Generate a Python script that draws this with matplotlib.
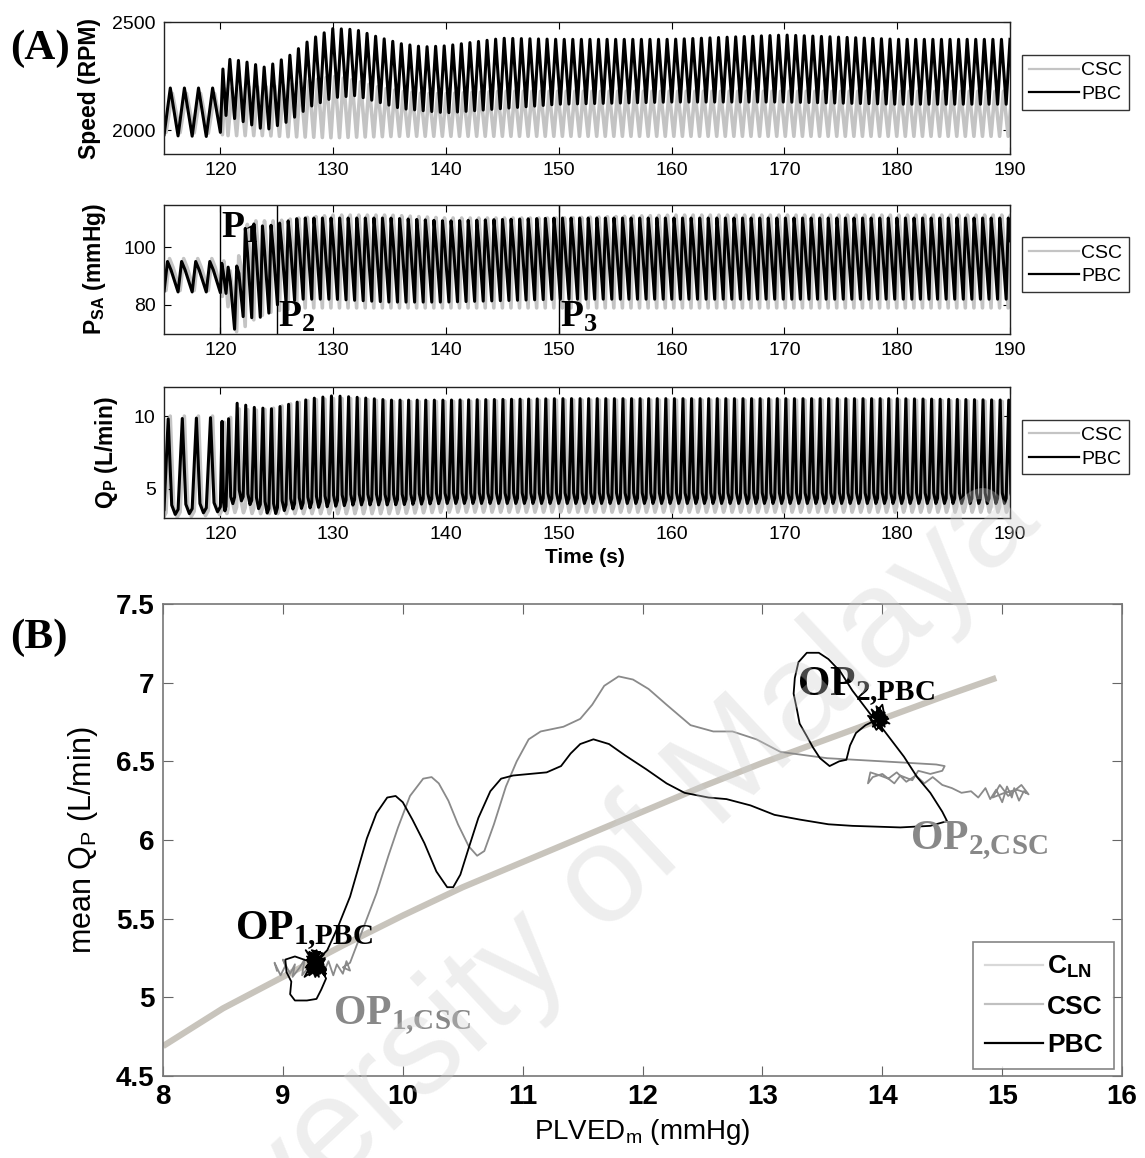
import numpy as np
import matplotlib
matplotlib.use("Agg")
import matplotlib.pyplot as plt
from matplotlib.lines import Line2D
from matplotlib.ticker import FormatStrFormatter

plt.rcParams['font.family'] = ['Liberation Sans', 'DejaVu Sans']
plt.rcParams['mathtext.fontset'] = 'custom'
plt.rcParams['mathtext.rm'] = 'Liberation Serif:bold'
plt.rcParams['mathtext.sf'] = 'Liberation Sans'
plt.rcParams['mathtext.bf'] = 'Liberation Sans:bold'
plt.rcParams['mathtext.it'] = 'Liberation Sans:italic'

# ---------------- (A) beat envelopes: time (s), upper / lower levels ----------------
spd_t = [115, 119.9, 120.4, 122, 124, 126, 128, 130, 132, 134, 136, 138, 140, 145, 150, 160, 170, 180, 190]
spd_pbc_hi = [2195, 2195, 2330, 2320, 2290, 2340, 2420, 2470, 2465, 2430, 2400, 2385, 2390, 2425, 2420, 2420, 2440, 2420, 2420]
spd_pbc_lo = [1975, 1970, 2070, 2040, 2000, 2040, 2110, 2150, 2160, 2130, 2100, 2090, 2080, 2100, 2120, 2130, 2130, 2120, 2120]
spd_csc_hi = [2170, 2170, 2190, 2200, 2200, 2210, 2230, 2250, 2230, 2200, 2180, 2170, 2170, 2180, 2180, 2180, 2180, 2180, 2180]
spd_csc_lo = [1990, 1985, 1975, 1975, 1975, 1970, 1968, 1965, 1968, 1970, 1972, 1972, 1972, 1972, 1972, 1972, 1972, 1972, 1972]

psa_t = [115, 119.5, 120.5, 121.3, 122.0, 123, 124, 125, 127, 130, 135, 140, 150, 160, 170, 180, 190]
psa_pbc_hi = [95, 95, 94, 90, 106, 108, 107, 108, 110, 110, 110, 109, 110, 110, 110, 110, 110]
psa_pbc_lo = [84.5, 84.5, 84, 71, 76, 75.5, 76, 80, 82, 82, 81, 81, 82, 82, 82, 82, 82]
psa_csc_hi = [96, 96, 95, 88, 107, 109, 109, 109, 110, 111, 111, 110, 110, 111, 111, 111, 111]
psa_csc_lo = [85, 85, 82, 70.5, 72, 75, 77, 78, 79, 79, 79, 79, 79, 79, 79, 79, 79]

qp_t = [115, 119.5, 120.5, 121.5, 123, 124.5, 126, 128, 130, 132, 135, 140, 150, 160, 170, 180, 190]
qp_pbc_hi = [9.8, 9.9, 9.5, 10.9, 10.6, 10.5, 10.8, 11.2, 11.4, 11.3, 11.1, 11.1, 11.2, 11.2, 11.2, 11.2, 11.1]
qp_pbc_lo = [3.2, 3.4, 3.5, 4.3, 3.8, 3.2, 3.6, 3.7, 3.8, 3.9, 3.9, 4.0, 4.0, 4.0, 4.0, 4.0, 4.0]
qp_csc_hi = [10.0, 10.0, 9.5, 10.5, 10.4, 10.5, 10.8, 11.1, 11.2, 11.2, 11.0, 11.0, 11.1, 11.1, 11.1, 11.1, 11.0]
qp_csc_lo = [3.0, 3.2, 3.3, 3.4, 3.3, 3.3, 3.3, 3.3, 3.3, 3.3, 3.3, 3.4, 3.4, 3.4, 3.4, 3.4, 3.4]

# heart period before / after the controller switch (s)
period_pre, period_post = 1.25, 0.76
switch_t = 120.5

# ---------------- (B) operating point trajectories ----------------
cln_x = [8.0, 8.5, 9.0, 9.5, 10.0, 10.5, 11.0, 11.5, 12.0, 12.5, 13.0, 13.5, 14.0, 14.5, 14.95]
cln_y = [4.69, 4.93, 5.13, 5.33, 5.52, 5.70, 5.86, 6.02, 6.18, 6.34, 6.49, 6.63, 6.77, 6.91, 7.03]

csc_x = [8.95, 8.93, 8.98, 9.02, 9.00, 9.06, 9.10, 9.08, 9.14, 9.18, 9.16, 9.22, 9.27, 9.30, 9.34,
         9.38, 9.42, 9.45, 9.50, 9.53, 9.56, 9.50, 9.56, 9.58,
         9.66, 9.78, 9.88, 9.96, 10.06, 10.17, 10.24, 10.30, 10.38, 10.46, 10.55, 10.62, 10.68,
         10.76, 10.86, 10.95, 11.05, 11.15, 11.34, 11.48, 11.58, 11.68, 11.80, 11.92, 12.05, 12.2,
         12.4, 12.59, 12.75, 12.95, 13.15, 13.54, 14.0, 14.45, 14.52,
         14.50, 14.40, 14.30, 14.25, 14.15, 14.10, 14.0, 13.92, 13.88, 13.90, 13.98, 14.05, 14.12,
         14.2, 14.28, 14.35, 14.42, 14.5, 14.58, 14.66, 14.74, 14.80, 14.86, 14.90, 14.95, 15.0,
         15.04, 15.08, 15.1, 15.14, 15.18, 15.22, 15.16, 15.05, 14.98, 14.92, 15.02, 15.12, 15.2]
csc_y = [5.17, 5.22, 5.14, 5.20, 5.24, 5.15, 5.21, 5.13, 5.19, 5.24, 5.14, 5.20, 5.13, 5.22, 5.16,
         5.23, 5.14, 5.21, 5.15, 5.23, 5.17, 5.19, 5.22, 5.26,
         5.42, 5.66, 5.90, 6.08, 6.28, 6.39, 6.40, 6.36, 6.25, 6.10, 5.96, 5.90, 5.93,
         6.10, 6.34, 6.50, 6.64, 6.69, 6.72, 6.77, 6.86, 6.98, 7.04, 7.02, 6.96, 6.86,
         6.73, 6.69, 6.69, 6.64, 6.56, 6.52, 6.50, 6.48, 6.47,
         6.44, 6.42, 6.44, 6.38, 6.41, 6.36, 6.42, 6.40, 6.36, 6.43, 6.41, 6.39, 6.43,
         6.37, 6.41, 6.36, 6.40, 6.35, 6.33, 6.30, 6.31, 6.27, 6.33, 6.26, 6.32, 6.24,
         6.34, 6.27, 6.33, 6.25, 6.31, 6.29, 6.35, 6.28, 6.35, 6.27, 6.30, 6.32, 6.30]

# PBC path: OP1 loop + settling blob, transition, OP2 loop + settling blob
pbc_x = [9.25, 9.10, 9.02, 9.03, 9.07, 9.06, 9.10, 9.20, 9.28, 9.32, 9.36, 9.30,
         9.21, 9.33, 9.24, 9.36, 9.20, 9.30, 9.27, 9.34, 9.22, 9.31, 9.19, 9.35, 9.26, 9.23,
         9.32, 9.28, 9.21, 9.36, 9.25, 9.30, 9.20, 9.34, 9.27, 9.23, 9.33, 9.29, 9.22, 9.35,
         9.24, 9.31, 9.20, 9.34, 9.22, 9.35, 9.19, 9.31, 9.26, 9.21, 9.36, 9.24, 9.29, 9.18,
         9.33, 9.27, 9.22, 9.35, 9.25, 9.30, 9.20, 9.28, 9.32,
         9.37, 9.46, 9.56, 9.64, 9.70, 9.78, 9.87, 9.94, 10.0, 10.08, 10.18, 10.28, 10.37, 10.42,
         10.48, 10.55, 10.63, 10.73, 10.82, 10.92, 11.06, 11.2, 11.32, 11.40, 11.48, 11.59, 11.72,
         11.85, 12.03, 12.2, 12.35, 12.55, 12.7, 12.9, 13.1, 13.31, 13.55, 13.75, 14.15, 14.40,
         14.54, 14.50, 14.40, 14.29, 14.18, 14.08, 14.0, 13.96,
         13.9, 13.84, 13.75, 13.65, 13.55, 13.47, 13.37, 13.30, 13.27, 13.26, 13.29, 13.31, 13.37,
         13.42, 13.48, 13.56, 13.64, 13.70, 13.73, 13.78, 13.86, 13.94,
         13.98, 14.02, 13.92, 14.04, 13.95, 13.90, 14.00, 14.03, 13.93, 13.97, 14.01, 13.94, 13.99,
         14.02, 13.96, 13.91, 13.98, 14.06, 13.88, 14.00, 13.95, 14.05, 13.92, 13.99, 14.03, 13.97]
pbc_y = [5.22, 5.26, 5.24, 5.16, 5.10, 5.02, 4.98, 4.98, 4.99, 5.05, 5.12, 5.20,
         5.16, 5.28, 5.30, 5.18, 5.24, 5.13, 5.27, 5.21, 5.14, 5.29, 5.19, 5.25, 5.15, 5.27,
         5.17, 5.30, 5.22, 5.15, 5.19, 5.28, 5.20, 5.23, 5.13, 5.26, 5.18, 5.25, 5.29, 5.16,
         5.28, 5.16, 5.18, 5.27, 5.22, 5.14, 5.30, 5.15, 5.22, 5.25, 5.17, 5.26, 5.29, 5.13,
         5.21, 5.19, 5.28, 5.24, 5.17, 5.20, 5.26, 5.23, 5.26,
         5.30, 5.45, 5.64, 5.85, 6.01, 6.17, 6.27, 6.28, 6.24, 6.13, 5.98, 5.80, 5.70, 5.70,
         5.78, 5.95, 6.14, 6.31, 6.39, 6.41, 6.42, 6.43, 6.47, 6.55, 6.61, 6.64, 6.61,
         6.54, 6.45, 6.36, 6.30, 6.27, 6.26, 6.22, 6.16, 6.13, 6.10, 6.09, 6.08, 6.09,
         6.12, 6.18, 6.30, 6.40, 6.53, 6.63, 6.71, 6.76,
         6.80, 6.86, 6.95, 7.07, 7.15, 7.19, 7.19, 7.13, 7.03, 6.93, 6.82, 6.74, 6.66,
         6.59, 6.52, 6.47, 6.50, 6.51, 6.60, 6.68, 6.73, 6.76,
         6.84, 6.72, 6.80, 6.78, 6.70, 6.77, 6.86, 6.74, 6.73, 6.82, 6.76, 6.79, 6.71,
         6.81, 6.75, 6.83, 6.78, 6.74, 6.79, 6.69, 6.85, 6.77, 6.72, 6.80, 6.76, 6.78]


def beat_trace(beats, knot_t, hi, lo, shape):
    """Build a pulsatile trace: one waveform shape per beat scaled between lo and hi."""
    tt, vv = [], []
    for b0, b1 in zip(beats[:-1], beats[1:]):
        T = b1 - b0
        for ph, lev in shape:
            t = b0 + ph * T
            h = np.interp(t, knot_t, hi)
            l = np.interp(t, knot_t, lo)
            tt.append(t)
            vv.append(l + lev * (h - l))
    return tt, vv


def beat_times(offset):
    pre = np.arange(115 - period_pre + offset, switch_t, period_pre)
    post = np.arange(switch_t + offset, 191, period_post)
    return np.concatenate([pre, post])


GRAY_A = '#c4c4c4'
fig = plt.figure(figsize=(11.45, 11.58), dpi=100)

spd_shape = [(0, 0), (0.45, 1)]
psa_shape = [(0, 0), (0.25, 1), (0.5, 0.72)]
qp_shape = [(0, 0.05), (0.3, 1), (0.55, 0.1), (0.8, 0)]

panels = [
    ([0.1432, 0.8670, 0.7389, 0.1140], spd_t, spd_csc_hi, spd_csc_lo, spd_pbc_hi, spd_pbc_lo,
     spd_shape, (1890, 2500), [2000, 2500], 'Speed (RPM)', -0.075),
    ([0.1432, 0.7116, 0.7389, 0.1114], psa_t, psa_csc_hi, psa_csc_lo, psa_pbc_hi, psa_pbc_lo,
     psa_shape, (70, 114.5), [80, 100], r'$\mathbf{P_{SA}}$ (mmHg)', -0.066),
    ([0.1432, 0.5527, 0.7389, 0.1131], qp_t, qp_csc_hi, qp_csc_lo, qp_pbc_hi, qp_pbc_lo,
     qp_shape, (3, 12), [5, 10], r'$\mathbf{Q_P}$ (L/min)', -0.052),
]

axes_a = []
for pos, kt, c_hi, c_lo, p_hi, p_lo, shape, ylim, yticks, ylab, ylx in panels:
    ax = fig.add_axes(pos)
    tc, vc = beat_trace(beat_times(0.18), kt, c_hi, c_lo, shape)
    tp, vp = beat_trace(beat_times(0.0), kt, p_hi, p_lo, shape)
    ax.plot(tc, vc, color=GRAY_A, lw=2.6, label='CSC')
    ax.plot(tp, vp, color='black', lw=2.2, label='PBC')
    ax.set_xlim(115, 190)
    ax.set_ylim(*ylim)
    ax.set_yticks(yticks)
    ax.set_xticks(range(120, 191, 10))
    ax.tick_params(direction='in', top=True, right=True, labelsize=14, length=5, pad=6)
    ax.set_ylabel(ylab, fontsize=16.5, fontweight='bold')
    ax.yaxis.set_label_coords(ylx, 0.5)
    for s in ax.spines.values():
        s.set_linewidth(1.0)
        s.set_color('#222222')
    leg = ax.legend(loc='upper left', bbox_to_anchor=(1.014, 0.75), fontsize=14,
                    frameon=True, fancybox=False, handlelength=2.6, handletextpad=0.1,
                    borderpad=0.35, labelspacing=0.3, borderaxespad=0)
    leg.get_frame().set_edgecolor('black')
    leg.get_frame().set_linewidth(1.0)
    for h in leg.get_lines():
        h.set_linewidth(1.6)
    axes_a.append(ax)

# phase markers on the pressure panel
ax_psa = axes_a[1]
for xv in (120, 125, 150):
    ax_psa.axvline(xv, color='black', lw=1.0)
ax_psa.text(120.05, 103.1, r'$\mathrm{P_1}$', fontsize=27, va='baseline', ha='left')
ax_psa.text(125.15, 72.4, r'$\mathrm{P_2}$', fontsize=27, va='baseline', ha='left')
ax_psa.text(150.15, 72.4, r'$\mathrm{P_3}$', fontsize=27, va='baseline', ha='left')

axes_a[2].text(0.498, -0.30, 'Time (s)', transform=axes_a[2].transAxes, ha='center',
               va='center', fontsize=15, fontweight='bold')

fig.text(0.009, 0.958, '(A)', fontsize=31, fontweight='bold', family='Liberation Serif',
         va='center', ha='left')
fig.text(0.009, 0.449, '(B)', fontsize=31, fontweight='bold', family='Liberation Serif',
         va='center', ha='left')

# ---------------- (B) ----------------
axb = fig.add_axes([0.1424, 0.0708, 0.8376, 0.4076])
axb.plot(cln_x, cln_y, color='#c8c4bc', lw=4.5, solid_capstyle='butt', zorder=1)
axb.plot(csc_x, csc_y, color='#8a8a8a', lw=1.3, zorder=2)
axb.plot(pbc_x, pbc_y, color='black', lw=1.3, zorder=3)
axb.set_xlim(8, 16)
axb.set_ylim(4.5, 7.5)
axb.set_xticks(range(8, 17))
axb.set_yticks(np.arange(4.5, 7.51, 0.5))
axb.yaxis.set_major_formatter(FormatStrFormatter('%g'))
axb.tick_params(direction='in', top=True, right=True, labelsize=20, length=7, pad=6,
                color='#666666')
for lab in axb.get_xticklabels() + axb.get_yticklabels():
    lab.set_fontweight('bold')
for s in axb.spines.values():
    s.set_linewidth(1.2)
    s.set_color('#777777')
axb.set_ylabel(r'mean $\mathsf{Q_P}$ (L/min)', fontsize=22)
axb.yaxis.set_label_coords(-0.066, 0.5)
axb.set_xlabel(r'PLVED$\mathsf{_m}$ (mmHg)', fontsize=20)
axb.xaxis.set_label_coords(0.5, -0.087)

axb.text(8.60, 5.37, r'$\mathrm{OP_{1{,}PBC}}$', fontsize=30, color='black', va='baseline')
axb.text(9.42, 4.83, r'$\mathrm{OP_{1{,}CSC}}$', fontsize=30, color='#888888', va='baseline')
axb.text(13.29, 6.92, r'$\mathrm{OP_{2{,}PBC}}$', fontsize=30, color='black', va='baseline')
axb.text(14.23, 5.94, r'$\mathrm{OP_{2{,}CSC}}$', fontsize=30, color='#888888', va='baseline')

handles = [Line2D([], [], color='#d8d8d8', lw=1.6),
           Line2D([], [], color='#c0c0c0', lw=1.6),
           Line2D([], [], color='black', lw=1.6)]
legb = axb.legend(handles, [r'$\mathbf{C_{LN}}$', 'CSC', 'PBC'], loc='lower right',
                  bbox_to_anchor=(0.992, 0.015), prop={'size': 19, 'weight': 'bold'},
                  frameon=True, fancybox=False, handlelength=2.2, handletextpad=0.15,
                  borderpad=0.45, labelspacing=0.55, borderaxespad=0)
legb.get_frame().set_edgecolor('#666666')
legb.get_frame().set_linewidth(1.2)

# repository watermark
fig.text(0.49, 0.20, 'University of Malaya', rotation=43, fontsize=100, color='#d0d0d0',
         alpha=0.35, ha='center', va='center', zorder=10)

fig.savefig('out.png', dpi=100)
